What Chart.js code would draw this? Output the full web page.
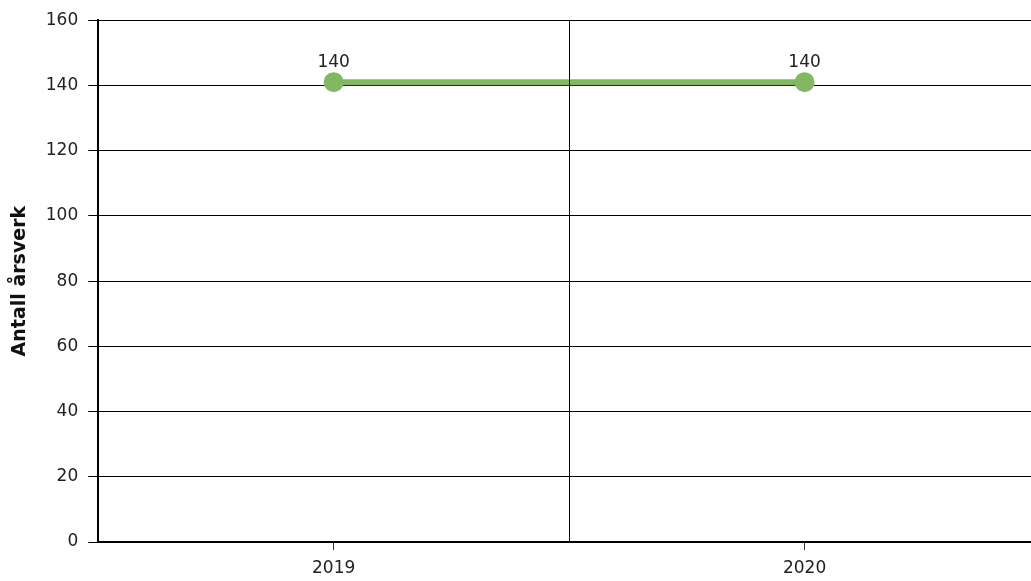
<!DOCTYPE html>
<html>
<head>
<meta charset="utf-8">
<script src="https://cdn.jsdelivr.net/npm/chart.js@4"></script>
<style>
    html, body { margin: 0; padding: 0; background: #fff; overflow: hidden; }
    #wrap { width: 1053px; height: 587px; }
</style>
</head>
<body>
<div id="wrap"><canvas id="chart"></canvas></div>
<script>
    var years = ['2019', '2020'];
    var arsverk = [141, 141];
    var punktEtiketter = ['140', '140'];
    var yTicks = [0, 20, 40, 60, 80, 100, 120, 140, 160];

    var fontFamily = 'Verdana, "DejaVu Sans", sans-serif';

    // vertical divider between categories
    var midLinePlugin = {
        id: 'midLine',
        afterDraw: function (chart) {
            var x = chart.scales.x;
            var area = chart.chartArea;
            var ctx = chart.ctx;
            ctx.save();
            ctx.strokeStyle = '#000';
            ctx.lineWidth = 1;
            for (var i = 0; i < years.length - 1; i++) {
                var px = Math.round(x.getPixelForValue(i + 0.5)) + 0.5;
                ctx.beginPath();
                ctx.moveTo(px, area.top);
                ctx.lineTo(px, area.bottom);
                ctx.stroke();
            }
            ctx.restore();
        }
    };

    var labelPlugin = {
        id: 'punktEtiketter',
        afterDatasetsDraw: function (chart) {
            var ctx = chart.ctx;
            var meta = chart.getDatasetMeta(0);
            ctx.save();
            ctx.fillStyle = '#222';
            ctx.font = '17px ' + fontFamily;
            ctx.textAlign = 'center';
            ctx.textBaseline = 'bottom';
            meta.data.forEach(function (pt, i) {
                ctx.fillText(punktEtiketter[i], pt.x, pt.y - 11);
            });
            ctx.restore();
        }
    };

    var ctx = document.getElementById('chart').getContext('2d');
    new Chart(ctx, {
        type: 'line',
        data: {
            labels: years,
            datasets: [{
                label: 'Antall årsverk',
                data: arsverk,
                borderColor: '#84b764',
                backgroundColor: '#84b764',
                borderWidth: 6,
                pointRadius: 7,
                pointHoverRadius: 7,
                tension: 0
            }]
        },
        options: {
            responsive: true,
            maintainAspectRatio: false,
            animation: false,
            layout: {padding: {top: 11, left: 9}},
            plugins: {
                legend: {display: false},
                tooltip: {enabled: false}
            },
            scales: {
                x: {
                    offset: true,
                    grid: {
                        offset: false,
                        drawOnChartArea: false,
                        color: '#333',
                        tickLength: 8
                    },
                    border: {color: '#000', width: 2},
                    ticks: {
                        color: '#222',
                        font: {family: fontFamily, size: 17, lineHeight: 1},
                        padding: 10
                    }
                },
                y: {
                    min: 0,
                    max: 160,
                    afterBuildTicks: function (axis) {
                        axis.ticks = yTicks.map(function (v) { return {value: v}; });
                    },
                    grid: {color: '#000', tickLength: 10},
                    border: {color: '#000', width: 2},
                    ticks: {
                        color: '#222',
                        font: {family: fontFamily, size: 17},
                        padding: 10
                    },
                    title: {
                        display: true,
                        text: 'Antall årsverk',
                        color: '#111',
                        font: {family: fontFamily, size: 19, weight: 'bold'},
                        padding: {top: 0, bottom: 4}
                    }
                }
            }
        },
        plugins: [midLinePlugin, labelPlugin]
    });
</script>
</body>
</html>
